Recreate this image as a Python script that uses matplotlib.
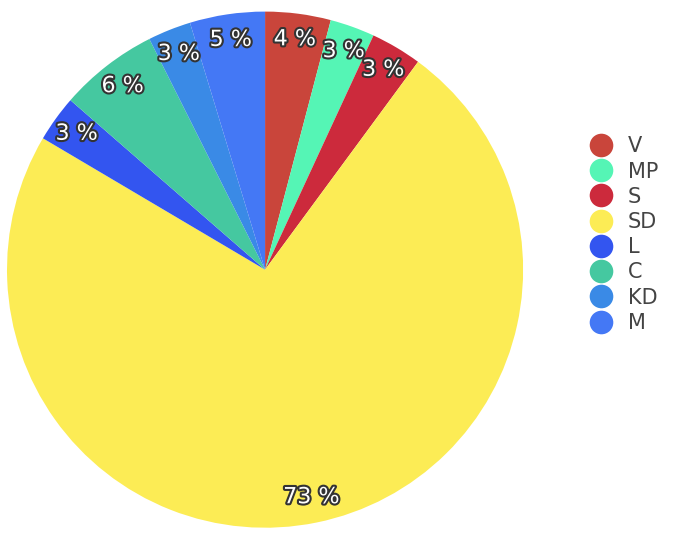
import matplotlib
matplotlib.use("Agg")
import matplotlib.pyplot as plt
import matplotlib.patheffects as pe
from matplotlib.lines import Line2D
import numpy as np

parties = ["V", "MP", "S", "SD", "L", "C", "KD", "M"]
shares = [4.1, 2.8, 3.2, 73.4, 2.9, 6.2, 2.7, 4.7]
colors = ["#C9453B", "#55F5B5", "#CC2A3C", "#FCEC55", "#3355F0", "#45C8A0", "#3A8AE6", "#4478F5"]

fig = plt.figure(figsize=(6.8, 5.52), dpi=100)
ax = fig.add_axes([0.0103, 0.044, 0.759, 0.935])
ax.pie(shares, colors=colors, startangle=90, counterclock=False,
       wedgeprops={"linewidth": 0})
ax.set_xlim(-1, 1)
ax.set_ylim(-1, 1)
ax.set_aspect("equal")

total = sum(shares)
start = 90.0
for share in shares:
    mid = np.deg2rad(start - share / total * 360 / 2)
    start -= share / total * 360
    ax.text(0.9 * np.cos(mid), 0.9 * np.sin(mid), f"{round(share / total * 100)} %",
            ha="center", va="center", fontsize=16, color="white",
            path_effects=[pe.withStroke(linewidth=3, foreground="#333333")])

handles = [Line2D([], [], marker="o", linestyle="", markersize=17,
                  markerfacecolor=c, markeredgewidth=0) for c in colors]
fig.legend(handles, parties, loc="center left", bbox_to_anchor=(0.825, 0.575),
           frameon=False, fontsize=15, labelcolor="#444444",
           handletextpad=0.3, labelspacing=0.25)

fig.savefig("out.png", dpi=100)
